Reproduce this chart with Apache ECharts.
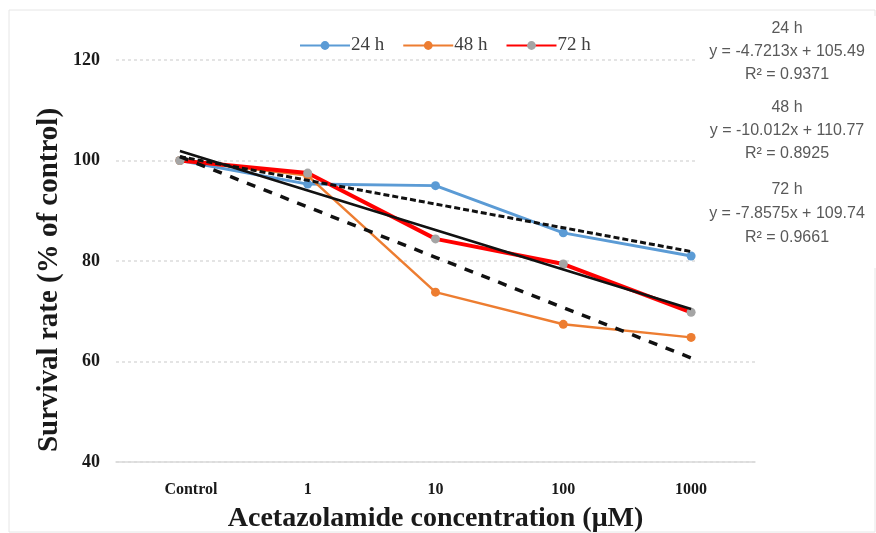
<!DOCTYPE html>
<html><head><meta charset="utf-8">
<script src="https://cdn.jsdelivr.net/npm/echarts@6/dist/echarts.min.js"></script>
<style>html,body{margin:0;padding:0;background:#fff}#c{width:876px;height:533px}</style>
</head><body><div id="c"></div>
<script>
const categories = ['Control', '1', '10', '100', '1000'];
const s24 = [100, 95.3, 95, 85.6, 81];
const s48 = [100, 97, 73.8, 67.4, 64.8];
const s72 = [100, 97.5, 84.4, 79.4, 69.8];
const trend24 = [100.77, 96.05, 91.33, 86.61, 81.88];
const trend48 = [100.76, 90.75, 80.74, 70.72, 60.71];
const trend72 = [101.88, 94.03, 86.17, 78.31, 70.45];
const yTicks = [40, 60, 80, 100, 120];
const eqLabels = [
  ['24 h', 'y = -4.7213x + 105.49', 'R\u00B2 = 0.9371'],
  ['48 h', 'y = -10.012x + 110.77', 'R\u00B2 = 0.8925'],
  ['72 h', 'y = -7.8575x + 109.74', 'R\u00B2 = 0.9661']
];
const yTitle = 'Survival rate (% of control)';
const xTitle = 'Acetazolamide concentration (\u03BCM)';

const serif = '"Liberation Serif", "DejaVu Serif", serif';
const sans = '"Liberation Sans", Arial, sans-serif';
const chart = echarts.init(document.getElementById('c'));

const eqY = [[29, 52, 75], [108, 131, 154], [190, 214, 238]];
const graphics = [
  { type: 'rect', shape: { x: 9, y: 10, width: 866, height: 522 }, style: { fill: 'none', stroke: '#e6e6e6', lineWidth: 1 }, z: -10, silent: true },
  { type: 'rect', shape: { x: 698, y: 16, width: 178, height: 252 }, style: { fill: '#fff' }, z: 50, silent: true },
  { type: 'text', x: 50, y: 280, rotation: Math.PI / 2, silent: true,
    style: { text: yTitle, fill: '#1a1a1a', font: 'bold 29px ' + serif, align: 'center', verticalAlign: 'middle' } }
];
eqLabels.forEach((g, i) => {
  g.forEach((t, j) => {
    graphics.push({ type: 'text', x: 787, y: eqY[i][j], z: 60, silent: true,
      style: { text: t, fill: '#595959', font: '16px ' + sans, align: 'center', verticalAlign: 'middle' } });
  });
});

chart.setOption({
  backgroundColor: '#fff',
  animation: false,
  graphic: graphics,
  legend: {
    data: ['24 h', '48 h', '72 h'],
    left: 294, top: 31,
    itemWidth: 50, itemHeight: 11, itemGap: 18,
    textStyle: { fontFamily: serif, fontSize: 19, color: '#404040', padding: [0, 0, 0, -4] }
  },
  grid: { left: 116, right: 121, top: 60, bottom: 71, outerBoundsMode: 'none', containLabel: false },
  xAxis: {
    type: 'category', data: categories, boundaryGap: true,
    axisLine: { show: true, lineStyle: { color: '#d9d9d9', width: 1.5 } },
    axisTick: { show: false },
    axisLabel: { fontFamily: serif, fontWeight: 'bold', fontSize: 16, color: '#1a1a1a', margin: 20,
      formatter: v => v === 'Control' ? '{c|' + v + '}' : v,
      rich: { c: { fontFamily: serif, fontWeight: 'bold', fontSize: 16, color: '#1a1a1a', padding: [0, 0, 0, 22] } } },
    name: xTitle,
    nameLocation: 'middle', nameGap: 43,
    nameTextStyle: { fontFamily: serif, fontWeight: 'bold', fontSize: 28, color: '#1a1a1a' }
  },
  yAxis: {
    type: 'value', min: 40, max: 120, interval: 20,
    axisLine: { show: false }, axisTick: { show: false },
    splitLine: { show: true, lineStyle: { color: '#dcdcdc', width: 1.5, type: [3, 3] } },
    axisLabel: { fontFamily: serif, fontWeight: 'bold', fontSize: 18, color: '#1a1a1a', margin: 16,
      formatter: v => yTicks.includes(v) ? String(v) : '' }
  },
  series: [
    { name: '24 h', type: 'line', data: s24, symbol: 'circle', symbolSize: 9, z: 3,
      lineStyle: { color: '#5B9BD5', width: 3 }, itemStyle: { color: '#5B9BD5' } },
    { name: '48 h', type: 'line', data: s48, symbol: 'circle', symbolSize: 9, z: 3,
      lineStyle: { color: '#ED7D31', width: 2.5 }, itemStyle: { color: '#ED7D31' } },
    { name: '72 h', type: 'line', data: s72, symbol: 'circle', symbolSize: 9, z: 3,
      lineStyle: { color: '#FF0000', width: 4 }, itemStyle: { color: '#A5A5A5' } },
    { name: 'trend24', type: 'line', data: trend24, symbol: 'none', z: 4,
      lineStyle: { color: '#111', width: 3, type: [6, 3] } },
    { name: 'trend48', type: 'line', data: trend48, symbol: 'none', z: 4,
      lineStyle: { color: '#111', width: 3.5, type: [9, 9] } },
    { name: 'trend72', type: 'line', data: trend72, symbol: 'none', z: 4,
      lineStyle: { color: '#111', width: 2.5 } }
  ]
});
</script></body></html>
